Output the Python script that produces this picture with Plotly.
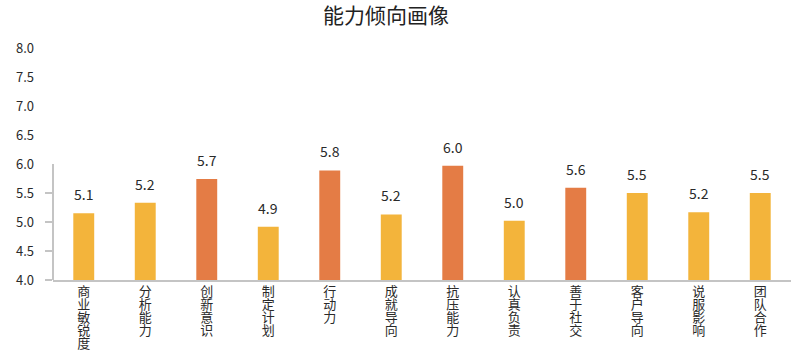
import math
import plotly.graph_objects as go

# ---- data ----
categories = ["商业敏锐度", "分析能力", "创新意识", "制定计划", "行动力", "成就导向",
              "抗压能力", "认真负责", "善于社交", "客户导向", "说服影响", "团队合作"]
values = [5.15, 5.33, 5.74, 4.92, 5.89, 5.13, 5.97, 5.02, 5.59, 5.50, 5.17, 5.50]
value_labels = ["5.1", "5.2", "5.7", "4.9", "5.8", "5.2", "6.0", "5.0", "5.6", "5.5", "5.2", "5.5"]
highlight = [False, False, True, False, True, False, True, False, True, False, False, False]
y_tick_vals = [4.0, 4.5, 5.0, 5.5, 6.0, 6.5, 7.0, 7.5, 8.0]
y_tick_text = ["4.0", "4.5", "5.0", "5.5", "6.0", "6.5", "7.0", "7.5", "8.0"]
y_marked_ticks = [4.0, 4.5, 5.0, 5.5]
title_text = "能力倾向画像"

# ---- style ----
YELLOW = "#F3B43B"
ORANGE = "#E47C45"
AXIS = "#C4C4C4"
FONT = "Noto Sans CJK SC"
TXT = "#2a2a2a"

colors = [ORANGE if h else YELLOW for h in highlight]


def vertical(label):
    # one character per line; small base font keeps lines tight, span enlarges glyphs
    return "<br>".join('<span style="font-size:13px">%s</span>' % ch for ch in label)


fig = go.Figure()
fig.add_trace(go.Bar(
    x=categories, y=values, marker=dict(color=colors, line=dict(width=0)),
    width=0.34, hoverinfo="skip", showlegend=False,
))
# invisible trace to attach the tick-mark axis
fig.add_trace(go.Scatter(x=[categories[0]], y=[values[0]], yaxis="y2", mode="none",
                         showlegend=False, hoverinfo="skip"))

annotations = []
for c, v, t in zip(categories, values, value_labels):
    annotations.append(dict(x=c, y=v, xref="x", yref="y", text=t, showarrow=False,
                            yanchor="bottom", yshift=7,
                            font=dict(family=FONT, size=14, color=TXT)))

ymin, ymax = y_tick_vals[0], y_tick_vals[-1]
line_top = math.ceil(max(values) * 2) / 2

W, H = 803, 356
fig.update_layout(
    width=W, height=H,
    margin=dict(l=53, r=12, t=48, b=76, autoexpand=False),
    paper_bgcolor="white", plot_bgcolor="white",
    title=dict(text=title_text, x=386 / W, xref="container", xanchor="center",
               y=1 - 16 / H, yref="container", yanchor="middle",
               font=dict(family=FONT, size=21, color="#222222")),
    xaxis=dict(tickmode="array", tickvals=categories,
               ticktext=[vertical(c) for c in categories],
               tickfont=dict(family=FONT, size=10, color=TXT), tickangle=0,
               automargin=False, ticklabelstandoff=2,
               ticks="", showgrid=False, zeroline=False,
               showline=True, linecolor=AXIS, linewidth=2),
    yaxis=dict(range=[ymin, ymax], tickvals=y_tick_vals, ticktext=y_tick_text,
               showgrid=False, zeroline=False, showline=False, ticks="",
               ticklabelstandoff=18, automargin=False,
               tickfont=dict(family=FONT, size=13, color=TXT)),
    yaxis2=dict(range=[ymin, ymax], overlaying="y", side="left", tickvals=y_marked_ticks,
                showticklabels=False, ticks="outside", ticklen=7, tickwidth=2,
                tickcolor=AXIS, showgrid=False, zeroline=False, showline=False,
                automargin=False),
    annotations=annotations,
    shapes=[dict(type="line", xref="paper", yref="y", x0=0, x1=0, y0=ymin, y1=line_top,
                 line=dict(color=AXIS, width=2))],
    bargap=0.66,
)

fig.write_html("out.html", config={"displayModeBar": False},
               post_script="document.body.style.margin='0';document.body.style.overflow='hidden';")
